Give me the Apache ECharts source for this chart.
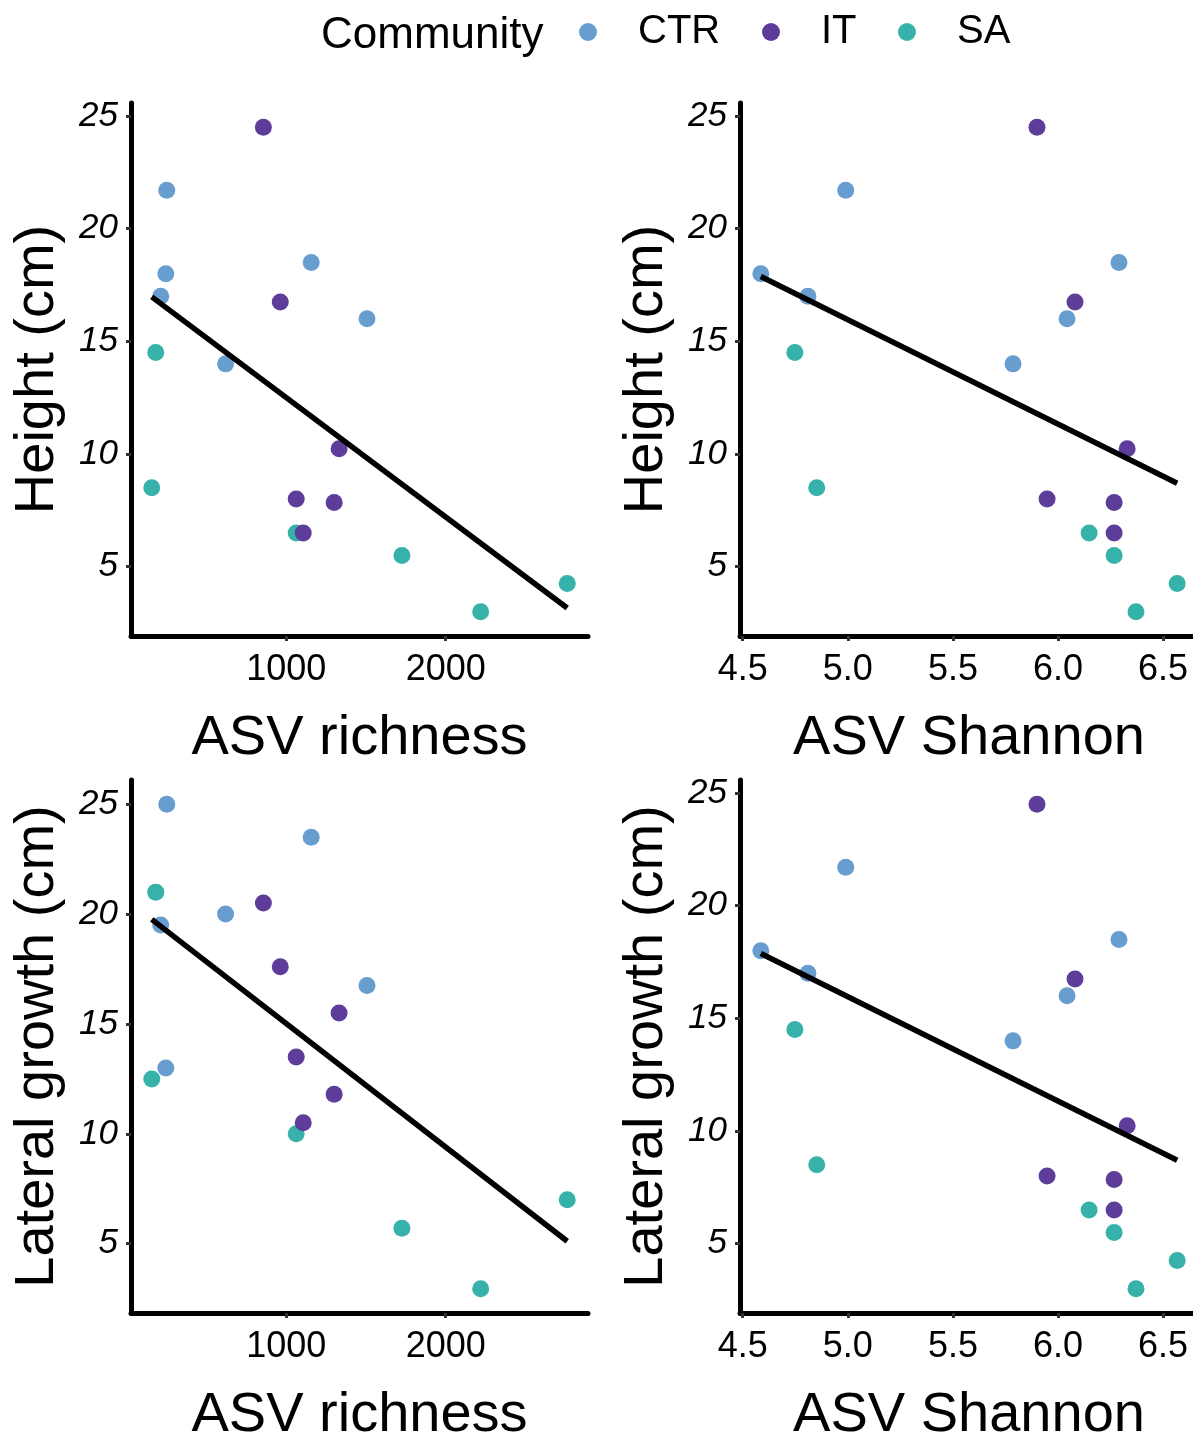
<!DOCTYPE html>
<html>
<head>
<meta charset="utf-8">
<script src="https://cdn.jsdelivr.net/npm/echarts@6/dist/echarts.min.js"></script>
<style>
  html, body { margin: 0; padding: 0; background: #fff; }
  #main { width: 1193px; height: 1434px; }
</style>
</head>
<body>
<div id="main"></div>
<script>
var groups = ['CTR', 'IT', 'SA'];
var drawOrder = ['CTR', 'SA', 'IT'];
var colors = { CTR: '#679dcf', IT: '#5e3c99', SA: '#37b2aa' };

// one value per sample, grouped by community
var richness = {
  CTR: [250, 244, 212, 619, 1156, 1506],
  IT:  [856, 962, 1331, 1062, 1300, 1106],
  SA:  [181, 156, 1062, 1725, 2219, 2762]
};
var shannon = {
  CTR: [4.99, 4.586, 4.81, 5.786, 6.29, 6.043],
  IT:  [5.90, 6.081, 6.329, 5.948, 6.267, 6.267],
  SA:  [4.748, 4.852, 6.148, 6.267, 6.371, 6.567]
};
var height = {
  CTR: [21.7, 18.0, 17.0, 14.0, 18.5, 16.0],
  IT:  [24.5, 16.75, 10.23, 8.0, 7.85, 6.5],
  SA:  [14.5, 8.5, 6.5, 5.5, 3.0, 4.25]
};
var lateral = {
  CTR: [25.0, 13.0, 19.5, 20.0, 23.5, 16.75],
  IT:  [20.5, 17.6, 15.5, 13.5, 11.8, 10.5],
  SA:  [21.0, 12.5, 10.0, 5.7, 2.95, 7.0]
};
// bottom-right panel in the figure shows the same values as the height panel
var lateralShannon = height;

var yTicks = [5, 10, 15, 20, 25];
var richTicks = [1000, 2000];
var shanTicks = [4.5, 5.0, 5.5, 6.0, 6.5];

function all(obj) {
  var out = [];
  groups.forEach(function (g) { out = out.concat(obj[g]); });
  return out;
}

// ggplot style 5% padding
function expand(vals) {
  var lo = Math.min.apply(null, vals), hi = Math.max.apply(null, vals);
  var pad = (hi - lo) * 0.05;
  return [lo - pad, hi + pad];
}

// lm fit over all samples, drawn across the data range
function fit(xs, ys) {
  var n = xs.length, mx = 0, my = 0, sxy = 0, sxx = 0;
  for (var i = 0; i < n; i++) { mx += xs[i]; my += ys[i]; }
  mx /= n; my /= n;
  for (var j = 0; j < n; j++) {
    sxy += (xs[j] - mx) * (ys[j] - my);
    sxx += (xs[j] - mx) * (xs[j] - mx);
  }
  var b = sxy / sxx, a = my - b * mx;
  var x0 = Math.min.apply(null, xs), x1 = Math.max.apply(null, xs);
  return [[x0, a + b * x0], [x1, a + b * x1]];
}

var panels = [
  { x: richness, y: height, xName: 'ASV richness', yName: 'Height (cm)', xTicks: richTicks, dec: 0,
    grid: { left: 131, top: 103, width: 457, height: 533 } },
  { x: shannon, y: height, xName: 'ASV Shannon', yName: 'Height (cm)', xTicks: shanTicks, dec: 1,
    grid: { left: 740, top: 103, width: 458, height: 533 } },
  { x: richness, y: lateral, xName: 'ASV richness', yName: 'Lateral growth (cm)', xTicks: richTicks, dec: 0,
    grid: { left: 131, top: 780, width: 457, height: 533 } },
  { x: shannon, y: lateralShannon, xName: 'ASV Shannon', yName: 'Lateral growth (cm)', xTicks: shanTicks, dec: 1,
    grid: { left: 740, top: 780, width: 458, height: 533 } }
];

var font = 'Liberation Sans, Arial, sans-serif';
var grids = [], xAxes = [], yAxes = [], series = [];

panels.forEach(function (p, i) {
  var xr = expand(all(p.x)), yr = expand(all(p.y));
  var g = p.grid;
  grids.push({ left: g.left, top: g.top, width: g.width, height: g.height, outerBoundsMode: 'none', containLabel: false });
  xAxes.push({
    gridIndex: i, type: 'value', min: xr[0], max: xr[1],
    name: p.xName, nameLocation: 'middle', nameGap: 75,
    nameTextStyle: { fontSize: 56, color: '#000', fontFamily: font },
    axisLine: { show: true, onZero: false, lineStyle: { color: '#000', width: 5 } },
    axisTick: { show: true, length: 5, customValues: p.xTicks, lineStyle: { color: '#333', width: 3 } },
    axisLabel: {
      customValues: p.xTicks, fontSize: 36, color: '#000', margin: 16, fontFamily: font,
      formatter: (function (d) { return function (v) { return v.toFixed(d); }; })(p.dec)
    },
    splitLine: { show: false }
  });
  yAxes.push({
    gridIndex: i, type: 'value', min: yr[0], max: yr[1],
    name: p.yName, nameLocation: 'middle', nameGap: 65,
    nameTextStyle: { fontSize: 56, color: '#000', fontFamily: font },
    axisLine: { show: true, onZero: false, lineStyle: { color: '#000', width: 5 } },
    axisTick: { show: true, length: 5, customValues: yTicks, lineStyle: { color: '#333', width: 3 } },
    axisLabel: { customValues: yTicks, fontSize: 35, color: '#000', margin: 13, fontStyle: 'italic', fontFamily: font },
    splitLine: { show: false }
  });

  drawOrder.forEach(function (grp) {
    series.push({
      name: grp, type: 'scatter', xAxisIndex: i, yAxisIndex: i,
      symbol: 'circle', symbolSize: 17,
      itemStyle: { color: colors[grp], opacity: 1 },
      data: p.x[grp].map(function (v, k) { return [v, p.y[grp][k]]; })
    });
  });

  series.push({
    type: 'line', xAxisIndex: i, yAxisIndex: i, z: 5,
    symbol: 'none', silent: true,
    lineStyle: { color: '#000', width: 5.5 },
    data: fit(all(p.x), all(p.y))
  });
});

function legendFor(name, left) {
  return {
    data: [name], left: left, top: 12, padding: 0, icon: 'circle',
    itemWidth: 18, itemHeight: 18, itemGap: 0, selectedMode: false,
    textStyle: { fontSize: 40, color: '#000', fontFamily: font, padding: [0, 0, 0, 36] }
  };
}

var chart = echarts.init(document.getElementById('main'));
chart.setOption({
  animation: false,
  backgroundColor: '#fff',
  textStyle: { fontFamily: font },
  title: {
    text: 'Community', left: 316, top: 9,
    textStyle: { fontSize: 44, fontWeight: 'normal', color: '#000', fontFamily: font }
  },
  legend: [legendFor('CTR', 579), legendFor('IT', 762), legendFor('SA', 898)],
  grid: grids,
  xAxis: xAxes,
  yAxis: yAxes,
  series: series
});
</script>
</body>
</html>
